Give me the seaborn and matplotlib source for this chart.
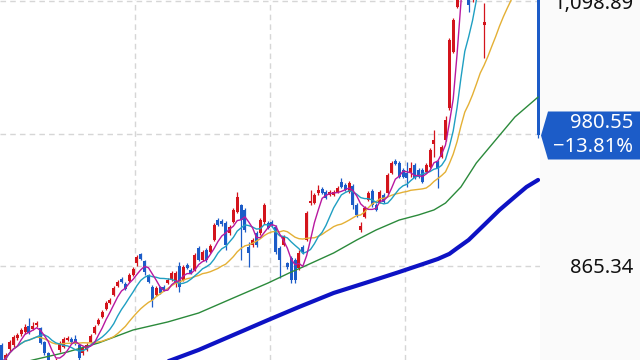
import numpy as np
import pandas as pd
import matplotlib
matplotlib.use("Agg")
import matplotlib.pyplot as plt
import seaborn as sns
from matplotlib.patches import Polygon

# ---------------- data ----------------
opens = [795.6, 782.3, 792.0, 795.6, 801.7, 805.3, 807.0, 812.3, 809.7, 813.2,
         810.6, 798.2, 788.5, 780.6, 775.3, 791.2, 793.8, 800.0, 800.9, 800.9,
         795.6, 788.5, 791.2, 798.2, 806.2, 814.1, 820.3, 827.4, 832.7, 839.7,
         847.7, 853.8, 849.4, 852.1, 857.4, 868.0, 875.9, 869.7, 857.4, 846.8,
         839.7, 846.8, 846.8, 850.3, 853.0, 850.3, 865.3, 853.0, 866.2, 861.8,
         861.8, 881.2, 870.6, 879.4, 877.7, 888.3, 905.9, 905.1, 903.3, 894.5,
         904.2, 913.0, 919.2, 914.8, 882.1, 883.9, 894.5, 894.5, 904.2, 903.3,
         904.2, 899.8, 881.2, 883.9, 868.0, 872.4, 870.6, 863.6, 882.1, 888.3,
         920.9, 920.9, 929.8, 933.3, 930.7, 928.0, 928.0, 930.7, 939.5, 936.8,
         930.7, 935.9, 919.2, 897.1, 908.6, 923.6, 931.5, 919.2, 921.8, 928.0,
         929.8, 947.4, 958.0, 956.3, 950.1, 947.4, 947.4, 954.5, 950.1, 950.1,
         948.3, 952.7, 973.0, 957.2, 961.6, 976.6, 1004.8, 1054.3, 1094.0, 1150.0,
         1200.0, 1180.0, 1100.0, 1120.0, 1133.0, 1078.1, 1105.0, 1110.0, 1122.0, 1115.0,
         1125.0, 1120.0, 1118.0, 1118.0, 1130.0, 1140.0, 1150.0, 1135.0, 1145.0, 1137.0]
highs = [797.3, 788.5, 800.0, 804.4, 806.2, 810.6, 814.1, 819.4, 815.9, 816.8,
         811.5, 799.1, 789.4, 782.3, 784.1, 799.1, 802.6, 803.5, 802.6, 804.4,
         796.4, 794.7, 797.3, 805.3, 813.2, 819.4, 826.5, 834.4, 837.1, 847.7,
         853.0, 855.6, 851.2, 859.1, 864.4, 875.0, 876.8, 870.6, 858.3, 848.5,
         847.7, 847.7, 848.5, 854.7, 860.9, 860.9, 868.9, 866.2, 868.0, 863.6,
         876.8, 883.0, 879.4, 881.2, 884.7, 903.3, 907.7, 906.8, 905.1, 901.5,
         916.5, 930.7, 920.1, 916.5, 886.5, 890.0, 896.2, 907.7, 920.9, 905.1,
         905.9, 901.5, 883.0, 892.7, 868.9, 874.2, 872.4, 879.4, 883.9, 913.9,
         932.4, 929.8, 936.8, 935.1, 932.4, 932.4, 932.4, 935.9, 943.0, 938.6,
         940.4, 937.7, 920.9, 904.2, 918.3, 931.5, 933.3, 920.9, 932.4, 929.8,
         947.4, 958.0, 959.8, 958.0, 951.9, 957.2, 957.2, 956.3, 951.9, 951.9,
         956.3, 969.5, 985.4, 958.9, 972.2, 997.8, 1066.6, 1084.3, 1160.0, 1210.0,
         1215.0, 1190.0, 1130.0, 1145.0, 1150.0, 1097.6, 1118.0, 1128.0, 1126.0, 1132.0,
         1130.0, 1126.0, 1125.0, 1138.0, 1148.0, 1158.0, 1155.0, 1150.0, 1152.0, 1140.0]
lows = [778.8, 780.6, 790.3, 793.8, 800.0, 803.5, 805.3, 805.3, 808.8, 811.5,
        796.4, 786.7, 778.8, 769.1, 773.5, 789.4, 792.9, 799.1, 797.3, 795.6,
        782.3, 786.7, 790.3, 797.3, 805.3, 813.2, 819.4, 826.5, 831.8, 838.8,
        846.8, 850.3, 844.1, 851.2, 856.5, 865.3, 870.6, 857.4, 850.3, 829.1,
        838.8, 840.6, 843.2, 849.4, 852.1, 846.8, 842.4, 852.1, 862.7, 858.3,
        860.9, 869.7, 869.7, 868.9, 876.8, 887.4, 900.6, 900.6, 879.4, 892.7,
        903.3, 912.1, 870.6, 895.3, 864.4, 882.1, 882.1, 892.7, 902.4, 898.0,
        899.8, 875.9, 854.7, 883.0, 862.7, 850.3, 850.3, 861.8, 875.9, 887.4,
        919.2, 920.1, 928.0, 928.9, 924.5, 927.1, 927.1, 929.8, 934.2, 931.5,
        929.8, 915.6, 908.6, 895.3, 907.7, 922.7, 917.4, 913.9, 920.9, 920.9,
        928.9, 946.6, 954.5, 943.0, 943.0, 935.1, 943.9, 942.1, 943.0, 938.6,
        947.4, 951.9, 961.6, 934.2, 960.7, 975.7, 1003.1, 1053.4, 1093.1, 1140.0,
        1175.0, 1089.6, 1098.0, 1110.0, 1120.0, 1049.0, 1101.0, 1105.0, 1108.0, 1110.0,
        1114.0, 1112.0, 1110.0, 1115.0, 1125.0, 1135.0, 1130.0, 1130.0, 1132.0, 978.5]
closes = [780.6, 786.7, 798.2, 802.6, 804.4, 808.8, 811.5, 806.2, 812.3, 815.0,
          797.3, 788.5, 780.6, 771.7, 782.3, 797.3, 800.9, 801.7, 798.2, 796.4,
          784.1, 792.9, 795.6, 803.5, 811.5, 817.6, 824.7, 832.7, 835.3, 845.9,
          851.2, 851.2, 845.0, 857.4, 862.7, 873.3, 871.5, 860.0, 851.2, 835.3,
          845.9, 841.5, 844.1, 853.0, 859.1, 859.1, 846.8, 864.4, 863.6, 859.1,
          875.0, 870.6, 877.7, 870.6, 883.0, 901.5, 901.5, 902.4, 883.9, 899.8,
          914.8, 926.2, 905.9, 897.1, 876.8, 888.3, 883.9, 905.9, 919.2, 898.9,
          901.5, 877.7, 870.6, 890.9, 864.4, 853.0, 853.0, 876.8, 877.7, 912.1,
          922.7, 928.0, 932.4, 929.8, 925.4, 930.7, 930.7, 934.2, 935.1, 932.4,
          938.6, 919.2, 910.4, 900.6, 916.5, 929.8, 919.2, 914.8, 930.7, 921.8,
          945.7, 956.3, 955.4, 943.9, 943.9, 943.0, 951.9, 943.0, 943.9, 939.5,
          954.5, 967.8, 976.6, 951.9, 970.4, 994.2, 1064.9, 1082.5, 1150.0, 1200.0,
          1190.0, 1095.8, 1120.0, 1133.0, 1140.0, 1080.8, 1110.0, 1120.0, 1115.0, 1125.0,
          1120.0, 1118.0, 1118.0, 1130.0, 1140.0, 1150.0, 1135.0, 1145.0, 1137.7, 980.55]

# long moving averages (candle index, value)
ma60_idx = [0, 8, 17, 25, 34, 43, 51, 60, 69, 75, 78, 86, 92, 97, 103, 108, 112, 115, 119, 123, 128, 133, 139]
ma60_val = [775.3, 782.3, 789.4, 797.3, 808.8, 815.9, 823.8, 837.1, 850.3, 860.0, 864.4, 876.8,
            888.3, 897.1, 905.9, 910.4, 914.8, 920.9, 935.1, 956.3, 976.6, 996.9, 1014.5]
ma120_idx = [38, 44, 51, 60, 69, 77, 86, 95, 103, 110, 113, 116, 118, 121, 125, 129, 133, 136, 139]
ma120_val = [775.3, 782.3, 791.2, 804.4, 817.6, 829.1, 841.5, 851.2, 860.0, 868.0,
             871.5, 876.0, 881.0, 888.3, 901.5, 914.8, 926.5, 935.1, 941.3]

ytick_vals = [865.34, 982.115, 1098.89]
ytick_labels = ["865.34", "", "1,098.89"]
last_price_label = "980.55"
change_label = "\u221213.81%"
Y_MIN, Y_MAX = 782.3, 1100.2

# ---------------- styling ----------------
sns.set_theme(style="white")
plt.rcParams["font.family"] = ["Noto Sans", "DejaVu Sans"]

RED = "#d3141c"
BLUE = "#1c5cc8"
GRID = "#d6d6d6"

df = pd.DataFrame({"open": opens, "high": highs, "low": lows, "close": closes})
df["idx"] = np.arange(len(df))
df["ma5"] = df["close"].rolling(5, min_periods=1).mean()
df["ma10"] = df["close"].rolling(10, min_periods=1).mean()
df["ma20"] = df["close"].rolling(20, min_periods=1).mean()

fig = plt.figure(figsize=(6.4, 3.6), dpi=100, facecolor="#fafafa")
ax = fig.add_axes([0, 0, 540 / 640, 1])
ax.set_facecolor("white")

# candles
up = df["close"] >= df["open"]
colors = np.where(up, RED, BLUE)
ax.vlines(df["idx"], df["low"], df["high"], colors=colors, lw=0.9, zorder=2)
body_lo = np.minimum(df["open"], df["close"])
body_h = np.maximum(np.abs(df["close"] - df["open"]), 1.2)
ax.bar(df["idx"], body_h, bottom=body_lo, width=0.78, color=colors, linewidth=0, zorder=2)

# moving averages
sns.lineplot(x=ma120_idx, y=ma120_val, ax=ax, color="#0d12c4", lw=3.0, zorder=3)
sns.lineplot(x=ma60_idx, y=ma60_val, ax=ax, color="#2b8a3b", lw=1.0, zorder=3)
sns.lineplot(data=df, x="idx", y="ma20", ax=ax, color="#e4b035", lw=1.0, zorder=3)
sns.lineplot(data=df, x="idx", y="ma10", ax=ax, color="#1f9fc2", lw=1.0, zorder=3)
sns.lineplot(data=df, x="idx", y="ma5", ax=ax, color="#b8189f", lw=1.0, zorder=3)

ax.set_xlim(-0.5, len(df) - 0.5)
ax.set_ylim(Y_MIN, Y_MAX)
ax.set_xlabel("")
ax.set_ylabel("")

# grid
ax.set_xticks([34.5, 69.5, 104.5])
ax.set_xticklabels([])
ax.set_yticks(ytick_vals)
ax.set_yticklabels(ytick_labels)
ax.grid(True, color=GRID, linestyle=(0, (4, 3)), lw=1.0, zorder=0)
ax.set_axisbelow(True)
for s in ax.spines.values():
    s.set_visible(False)
ax.tick_params(axis="x", length=0)
ax.yaxis.tick_right()
ax.tick_params(axis="y", length=0, pad=67, labelsize=14.5, labelcolor="#111111")
for lab in ax.get_yticklabels():
    lab.set_horizontalalignment("right")

# last price tag
yc = (closes[-1] - Y_MIN) / (Y_MAX - Y_MIN)
h = 24 / 360
tag = Polygon([(548 / 640, yc + h), (541 / 640, yc), (548 / 640, yc - h),
               (1.0, yc - h), (1.0, yc + h)], closed=True,
              transform=fig.transFigure, facecolor=BLUE, edgecolor="none", zorder=5)
fig.patches.append(tag)
fig.text(633 / 640, yc + 12 / 360, last_price_label, color="white", fontsize=14.5,
         ha="right", va="center", zorder=6)
fig.text(633 / 640, yc - 12 / 360, change_label, color="white", fontsize=14.5,
         ha="right", va="center", zorder=6)

fig.savefig("out.png", dpi=100, facecolor=fig.get_facecolor())
